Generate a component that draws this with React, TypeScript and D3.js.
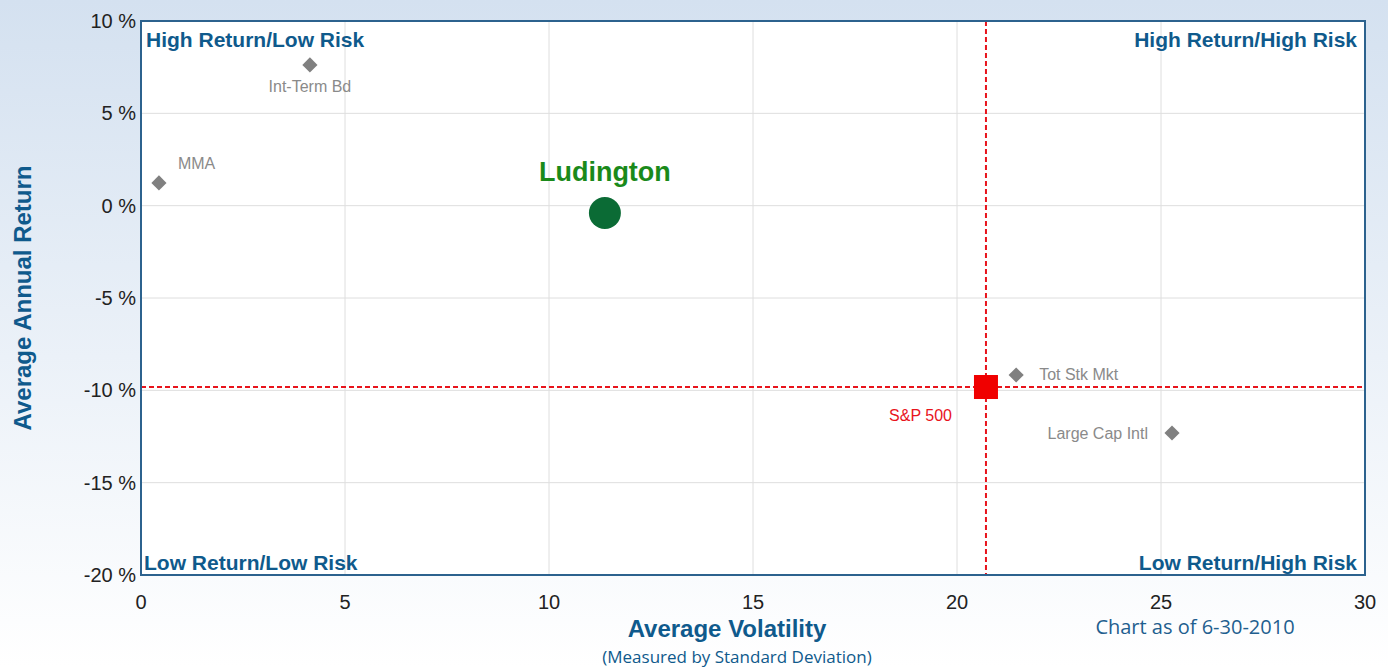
import React from 'react';
import * as d3 from 'd3';

// funds
const names = ['Int-Term Bd', 'MMA', 'Tot Stk Mkt', 'Large Cap Intl'];
const volatility = [4.14, 0.44, 21.45, 25.27];
const returns = [7.62, 1.23, -9.17, -12.31];

const mainName = 'Ludington';
const mainPoint = [11.37, -0.4];
const benchName = 'S&P 500';
const benchPoint = [20.71, -9.82];

const xTicks = [0, 5, 10, 15, 20, 25, 30];
const yTicks = [10, 5, 0, -5, -10, -15, -20];

const quadrants = ['High Return/Low Risk', 'High Return/High Risk', 'Low Return/Low Risk', 'Low Return/High Risk'];

const W = 1388;
const H = 667;
const margin = { top: 21, right: 23, bottom: 92, left: 141 };

const font = '"Liberation Sans", Arial, Helvetica, sans-serif';
const blue = '#0f5a8c';

const App = () => {
  const x = d3.scaleLinear().domain([0, 30]).range([margin.left, W - margin.right]);
  const y = d3.scaleLinear().domain([-20, 10]).range([H - margin.bottom, margin.top]);
  const [x0, x1] = x.range();
  const [yb, yt] = y.range();

  const diamond = d3.symbol().type(d3.symbolSquare).size(115)();
  // where each small label sits relative to its marker
  const labelPos = [
    { dx: 0, dy: 27, anchor: 'middle' },
    { dx: 19, dy: -14, anchor: 'start' },
    { dx: 23, dy: 5, anchor: 'start' },
    { dx: -24, dy: 6, anchor: 'end' },
  ];

  return (
    <svg width={W} height={H} style={{ position: 'absolute', left: 0, top: 0 }}>
      <defs>
        <linearGradient id="bg" x1="0" y1="0" x2="0" y2="1">
          <stop offset="0" stopColor="#d4e1f0" />
          <stop offset="1" stopColor="#ffffff" />
        </linearGradient>
      </defs>
      <rect x={0} y={0} width={W} height={H} fill="url(#bg)" />
      <rect x={x0} y={yt} width={x1 - x0} height={yb - yt} fill="#fff" />

      {/* grid */}
      {xTicks.slice(1, -1).map((t) => (
        <line key={'gx' + t} x1={x(t)} x2={x(t)} y1={yt} y2={yb} stroke="#dedede" />
      ))}
      {yTicks.slice(1, -1).map((t) => (
        <line key={'gy' + t} x1={x0} x2={x1} y1={y(t)} y2={y(t)} stroke="#dedede" />
      ))}

      {/* benchmark crosshair */}
      <line x1={x(benchPoint[0])} x2={x(benchPoint[0])} y1={yt} y2={yb} stroke="#e8141c" strokeWidth={2} strokeDasharray="5,3" />
      <line x1={x0} x2={x1} y1={y(benchPoint[1])} y2={y(benchPoint[1])} stroke="#e8141c" strokeWidth={2} strokeDasharray="5,3" />

      <rect x={x0} y={yt} width={x1 - x0} height={yb - yt} fill="none" stroke="#2c628e" strokeWidth={2} />

      {/* ticks */}
      {xTicks.map((t) => (
        <text key={'tx' + t} x={x(t)} y={yb + 34} textAnchor="middle" fontFamily={font} fontSize={20} fill="#222">
          {t}
        </text>
      ))}
      {yTicks.map((t) => (
        <text key={'ty' + t} x={x0 - 5} y={y(t) + 7} textAnchor="end" fontFamily={font} fontSize={20} fill="#222">
          {t + ' %'}
        </text>
      ))}

      {/* quadrant labels */}
      <text x={x0 + 5} y={yt + 26} fontFamily={font} fontSize={21} fontWeight="bold" fill={blue}>{quadrants[0]}</text>
      <text x={x1 - 8} y={yt + 26} textAnchor="end" fontFamily={font} fontSize={21} fontWeight="bold" fill={blue}>{quadrants[1]}</text>
      <text x={x0 + 3} y={yb - 5} fontFamily={font} fontSize={21} fontWeight="bold" fill={blue}>{quadrants[2]}</text>
      <text x={x1 - 8} y={yb - 5} textAnchor="end" fontFamily={font} fontSize={21} fontWeight="bold" fill={blue}>{quadrants[3]}</text>

      {/* funds */}
      {names.map((n, i) => (
        <g key={n}>
          <path d={diamond} transform={`translate(${x(volatility[i])},${y(returns[i])}) rotate(45)`} fill="#808080" />
          <text
            x={x(volatility[i]) + labelPos[i].dx}
            y={y(returns[i]) + labelPos[i].dy}
            textAnchor={labelPos[i].anchor}
            fontFamily={font}
            fontSize={16}
            fill="#8a8a8a"
          >
            {n}
          </text>
        </g>
      ))}

      {/* Ludington */}
      <circle cx={x(mainPoint[0])} cy={y(mainPoint[1])} r={16} fill="#0b6b35" />
      <text x={x(mainPoint[0])} y={y(mainPoint[1]) - 32} textAnchor="middle" fontFamily={font} fontSize={27} fontWeight="bold" fill="#1a8a1a">
        {mainName}
      </text>

      {/* S&P 500 */}
      <rect x={x(benchPoint[0]) - 12} y={y(benchPoint[1]) - 12} width={24} height={24} fill="#f00000" />
      <text x={x(benchPoint[0]) - 34} y={y(benchPoint[1]) + 34} textAnchor="end" fontFamily={font} fontSize={16} fill="#e8141c">
        {benchName}
      </text>

      {/* axis titles */}
      <text x={727} y={637} textAnchor="middle" fontFamily={font} fontSize={24} fontWeight="bold" fill={blue}>
        Average Volatility
      </text>
      <text x={737} y={663} textAnchor="middle" fontFamily='"Open Sans", sans-serif' fontSize={17} fill={blue}>
        (Measured by Standard Deviation)
      </text>
      <text transform={`translate(31,${(yb + yt) / 2}) rotate(-90)`} textAnchor="middle" fontFamily={font} fontSize={24} fontWeight="bold" fill={blue}>
        Average Annual Return
      </text>
      <text x={1195} y={634} textAnchor="middle" fontFamily='"Open Sans", sans-serif' fontSize={20} fill="#1f5f8f">
        Chart as of 6-30-2010
      </text>
    </svg>
  );
};

export default App;
